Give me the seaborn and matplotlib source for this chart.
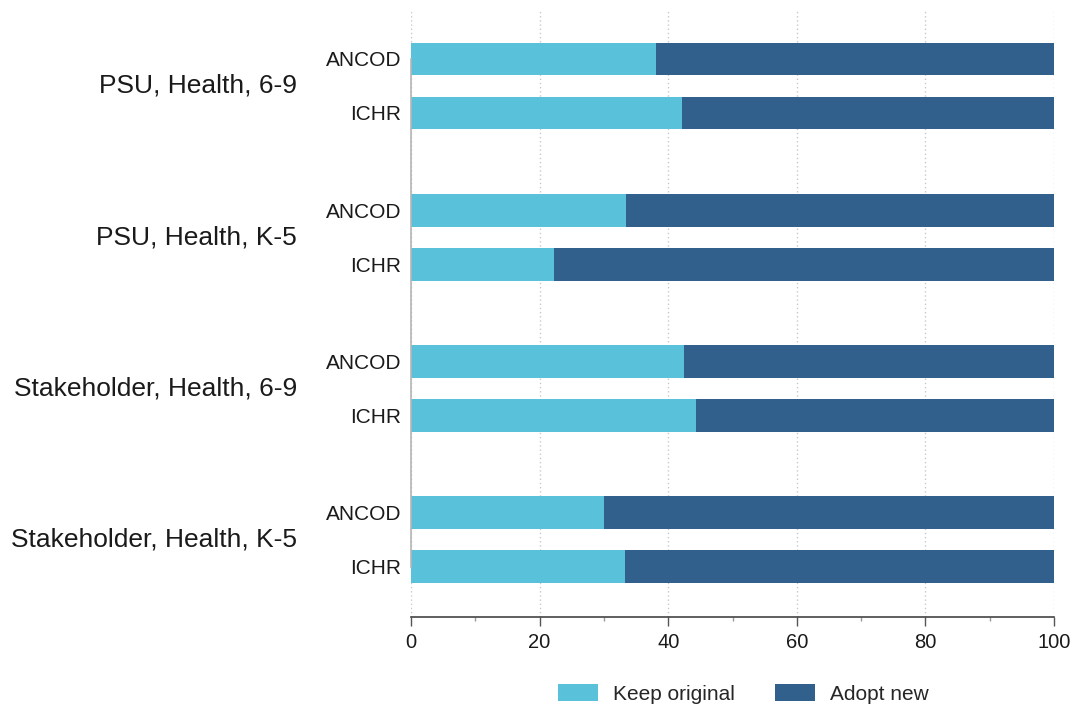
import matplotlib
matplotlib.use("Agg")
import matplotlib.pyplot as plt
from matplotlib.patches import Patch
from matplotlib.ticker import MultipleLocator
import matplotlib.transforms as mtransforms
import seaborn as sns
import pandas as pd

# Données (en %)
groups = ["PSU, Health, 6-9", "PSU, Health, K-5",
          "Stakeholder, Health, 6-9", "Stakeholder, Health, K-5"]
sources = ["ANCOD", "ICHR"]
keep_original = [38.1, 42.2, 33.4, 22.2, 42.5, 44.3, 30.0, 33.3]
adopt_new = [61.9, 57.8, 66.6, 77.8, 57.5, 55.7, 70.0, 66.7]

light = "#59C2DA"
dark = "#31608C"

sns.set_theme(style="white")
plt.rcParams["font.family"] = ["Liberation Sans", "DejaVu Sans"]

# Construire le tableau : une ligne par barre
rows = []
for g_idx, grp in enumerate(groups):
    for s_idx, src in enumerate(sources):
        i = g_idx * len(sources) + s_idx
        rows.append({
            "group": grp,
            "source": src,
            "pos": g_idx * 2.8 + s_idx,
            "keep": keep_original[i],
            "total": keep_original[i] + adopt_new[i],
        })
df = pd.DataFrame(rows)

fig = plt.figure(figsize=(10.75, 7.06), dpi=100)
ax = fig.add_axes([411 / 1075, 1 - 617 / 706, (1054 - 411) / 1075, (617 - 10) / 706])

# Barres empilées : total (foncé) puis "Keep original" (clair) par-dessus
sns.barplot(data=df, x="total", y="pos", orient="h", native_scale=True,
            color=dark, saturation=1, width=0.61, errorbar=None,
            linewidth=0, ax=ax)
sns.barplot(data=df, x="keep", y="pos", orient="h", native_scale=True,
            color=light, saturation=1, width=0.61, errorbar=None,
            linewidth=0, ax=ax)

ax.set_xlim(0, 100)
ax.set_ylim(10.333, -0.907)
ax.set_xlabel("")
ax.set_ylabel("")

# Axe x
ax.xaxis.set_major_locator(MultipleLocator(20))
ax.xaxis.set_minor_locator(MultipleLocator(10))
ax.tick_params(axis="x", which="major", bottom=True, length=6.5, width=1,
               color="#555555", labelsize=14.5, labelcolor="#1a1a1a", pad=5)
ax.tick_params(axis="x", which="minor", bottom=True, length=3, width=1,
               color="#999999")
ax.xaxis.grid(True, which="major", linestyle=(0, (1, 2)), color="#c8c8c8", linewidth=1)
ax.set_axisbelow(True)

# Axe y : sources
ax.set_yticks(df["pos"])
ax.set_yticklabels(df["source"])
ax.tick_params(axis="y", length=0, labelsize=15, labelcolor="#1a1a1a", pad=7)

for side in ["top", "right"]:
    ax.spines[side].set_visible(False)
ax.spines["bottom"].set_color("#444444")
ax.spines["bottom"].set_linewidth(1.2)
ax.spines["left"].set_color("#b5b5b5")
ax.spines["left"].set_linewidth(1.2)
ax.spines["left"].set_bounds(df["pos"].min(), df["pos"].max())

# Étiquettes de groupe
trans = mtransforms.blended_transform_factory(ax.transAxes, ax.transData)
for grp, sub in df.groupby("group", sort=False):
    ax.text(-0.177, sub["pos"].mean(), grp, transform=trans, ha="right",
            va="center", fontsize=19, color="#1a1a1a")

# Légende
handles = [Patch(facecolor=light, edgecolor="none", label="Keep original"),
           Patch(facecolor=dark, edgecolor="none", label="Adopt new")]
fig.legend(handles=handles, loc="center", bbox_to_anchor=(0.6916, 0.017),
           ncol=2, frameon=False, fontsize=15, handlelength=1.92,
           handleheight=0.82, handletextpad=0.75, columnspacing=1.9)

fig.savefig("out.png", dpi=100)
